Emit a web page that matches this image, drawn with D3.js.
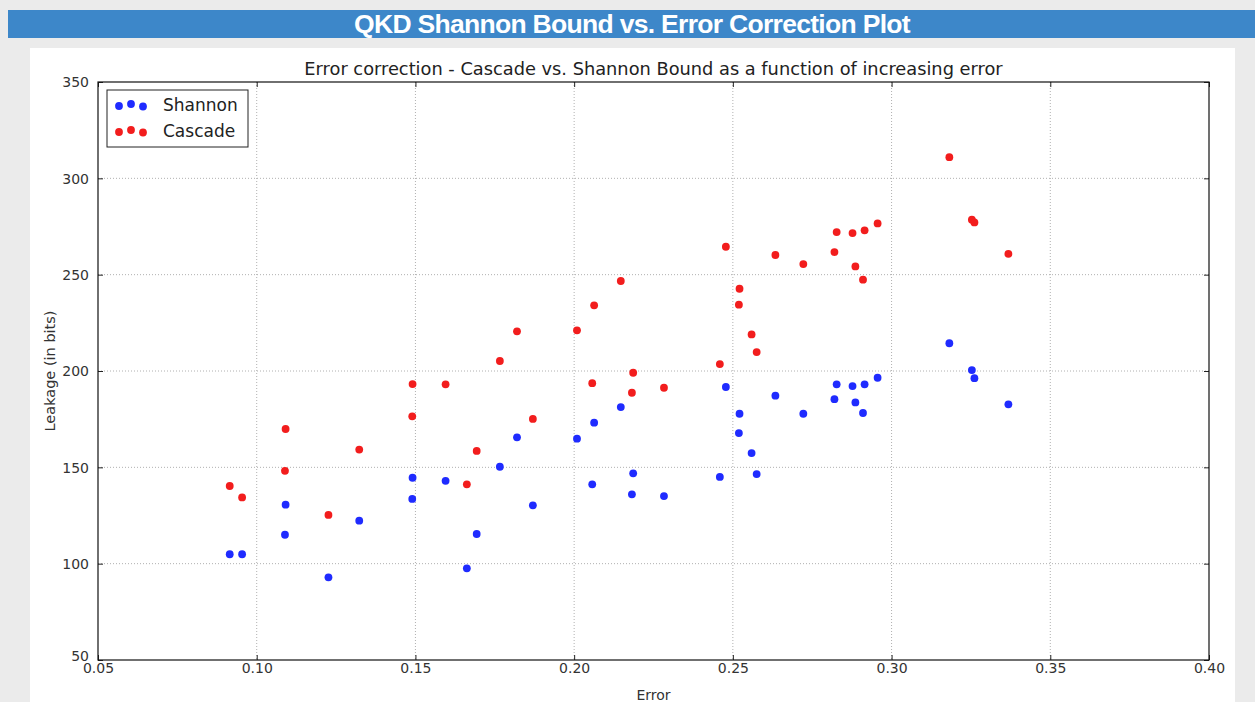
<!DOCTYPE html>
<html>
<head>
<meta charset="utf-8">
<script src="https://cdn.jsdelivr.net/npm/d3@7"></script>
<style>
  body { margin: 0; background: #ebebeb; }
  svg { display: block; }
</style>
</head>
<body>
<svg width="1255" height="702"></svg>
<script>
// Data
let errors = [0.0915, 0.0954, 0.1091, 0.1089, 0.1226, 0.1323, 0.1491, 0.1490, 0.1595, 0.1662,
              0.1693, 0.1766, 0.1820, 0.1870, 0.2009, 0.2063, 0.2057, 0.2147, 0.2186, 0.2182,
              0.2283, 0.2459, 0.2478, 0.2521, 0.2519, 0.2559, 0.2575, 0.2634, 0.2722, 0.2820,
              0.2827, 0.2877, 0.2886, 0.2910, 0.2915, 0.2956, 0.3182, 0.3253, 0.3261, 0.3368]
let shannon = [104.9, 104.9, 130.6, 115.0, 92.9, 122.3, 144.6, 133.6, 143.0, 97.6,
               115.4, 150.3, 165.6, 130.3, 164.9, 173.2, 141.2, 181.3, 146.9, 136.0,
               135.1, 145.0, 191.7, 177.8, 167.8, 157.4, 146.5, 187.2, 177.8, 185.4,
               193.1, 192.2, 183.7, 178.2, 193.1, 196.5, 214.4, 200.5, 196.3, 182.7]
let cascade = [140.3, 134.4, 169.9, 148.2, 125.3, 159.2, 193.2, 176.5, 193.1, 141.2,
               158.5, 205.2, 220.6, 175.1, 221.1, 234.1, 193.7, 246.7, 199.1, 188.7,
               191.3, 203.6, 264.5, 242.7, 234.4, 219.0, 209.8, 260.2, 255.5, 261.7,
               272.1, 271.6, 254.3, 247.4, 273.0, 276.6, 311.0, 278.5, 277.1, 260.8]
let xTicks = [0.05, 0.10, 0.15, 0.20, 0.25, 0.30, 0.35, 0.40]
let yTicks = [50, 100, 150, 200, 250, 300, 350]
let series = [
    { name: 'Shannon', values: shannon, color: '#1f2bff' },
    { name: 'Cascade', values: cascade, color: '#f21d1d' }
]

let svg = d3.select('svg')
let W = 1255, H = 702
let plot = { left: 98, right: 1209, top: 82, bottom: 660 }

// page chrome
svg.append('rect').attr('x', 0).attr('y', 0).attr('width', W).attr('height', H).attr('fill', '#ebebeb')
svg.append('rect').attr('x', 8).attr('y', 10).attr('width', W - 8).attr('height', 28).attr('fill', '#3d87c9')
svg.append('text')
    .attr('x', 632).attr('y', 33)
    .attr('text-anchor', 'middle')
    .attr('font-family', 'Liberation Sans, Arial, sans-serif')
    .attr('font-weight', 'bold')
    .attr('font-size', 26.5)
    .attr('letter-spacing', -0.7)
    .attr('fill', '#ffffff')
    .text('QKD Shannon Bound vs. Error Correction Plot')
svg.append('rect').attr('x', 30).attr('y', 48).attr('width', 1205).attr('height', H - 48).attr('fill', '#ffffff')

let scale = {
    x: d3.scaleLinear().domain([0.05, 0.40]).range([plot.left, plot.right]),
    y: d3.scaleLinear().domain([50, 350]).range([plot.bottom, plot.top])
}

let font = 'DejaVu Sans, sans-serif'
let g = svg.append('g')

// grid
g.append('g').selectAll('line').data(xTicks.slice(1, -1)).join('line')
    .attr('x1', d => scale.x(d)).attr('x2', d => scale.x(d))
    .attr('y1', plot.top).attr('y2', plot.bottom)
    .attr('stroke', '#b0b0b0').attr('stroke-width', 1).attr('stroke-dasharray', '1,2')
g.append('g').selectAll('line').data(yTicks.slice(1, -1)).join('line')
    .attr('x1', plot.left).attr('x2', plot.right)
    .attr('y1', d => scale.y(d)).attr('y2', d => scale.y(d))
    .attr('stroke', '#b0b0b0').attr('stroke-width', 1).attr('stroke-dasharray', '1,2')

// axes, ticks point inward like matplotlib classic
let axis = {
    bottom: d3.axisBottom(scale.x).tickValues(xTicks).tickFormat(d3.format('.2f')).tickSizeInner(-5).tickSizeOuter(0).tickPadding(7),
    top: d3.axisTop(scale.x).tickValues(xTicks).tickFormat('').tickSizeInner(-5).tickSizeOuter(0),
    left: d3.axisLeft(scale.y).tickValues(yTicks).tickSizeInner(-5).tickSizeOuter(0).tickPadding(9),
    right: d3.axisRight(scale.y).tickValues(yTicks).tickFormat('').tickSizeInner(-5).tickSizeOuter(0)
}
let gx = g.append('g').attr('transform', `translate(0,${plot.bottom})`).call(axis.bottom)
g.append('g').attr('transform', `translate(0,${plot.top})`).call(axis.top)
let gy = g.append('g').attr('transform', `translate(${plot.left},0)`).call(axis.left)
g.append('g').attr('transform', `translate(${plot.right},0)`).call(axis.right)
g.selectAll('.domain').remove()
g.selectAll('.tick line').attr('stroke', '#222')
g.selectAll('.tick text').attr('font-family', font).attr('font-size', 14).attr('fill', '#333')
gx.selectAll('.tick text').attr('dy', '0.45em')
gy.selectAll('.tick text').attr('dy', d => d === 50 ? '0.05em' : '0.35em')

g.append('rect')
    .attr('x', plot.left).attr('y', plot.top)
    .attr('width', plot.right - plot.left).attr('height', plot.bottom - plot.top)
    .attr('fill', 'none').attr('stroke', '#111').attr('stroke-width', 1.2)

// titles
svg.append('text').attr('x', (plot.left + plot.right) / 2).attr('y', 75)
    .attr('text-anchor', 'middle').attr('font-family', font).attr('font-size', 17.8).attr('fill', '#222')
    .text('Error correction - Cascade vs. Shannon Bound as a function of increasing error')
svg.append('text').attr('x', (plot.left + plot.right) / 2).attr('y', 700)
    .attr('text-anchor', 'middle').attr('font-family', font).attr('font-size', 14).attr('fill', '#333')
    .text('Error')
svg.append('text')
    .attr('transform', `translate(55,${(plot.top + plot.bottom) / 2}) rotate(-90)`)
    .attr('text-anchor', 'middle').attr('font-family', font).attr('font-size', 14.5).attr('fill', '#333')
    .text('Leakage (in bits)')

// points
series.forEach(s => {
    g.append('g').selectAll('circle').data(s.values).join('circle')
        .attr('cx', (d, i) => scale.x(errors[i]))
        .attr('cy', d => scale.y(d))
        .attr('r', 3.9)
        .attr('fill', s.color)
})

// legend
let legend = svg.append('g').attr('transform', 'translate(107,90)')
legend.append('rect').attr('x', 0).attr('y', 0).attr('width', 141).attr('height', 57)
    .attr('fill', '#fff').attr('stroke', '#222').attr('stroke-width', 1)
series.forEach((s, i) => {
    let row = legend.append('g').attr('transform', `translate(0,${15 + i * 26})`)
    ;[[12, 1], [24, -1], [36, 1.5]].forEach(p => {
        row.append('circle').attr('cx', p[0]).attr('cy', p[1]).attr('r', 3.9).attr('fill', s.color)
    })
    row.append('text').attr('x', 56).attr('y', 6).attr('font-family', font).attr('font-size', 17)
        .attr('fill', '#222').text(s.name)
})
</script>
</body>
</html>
